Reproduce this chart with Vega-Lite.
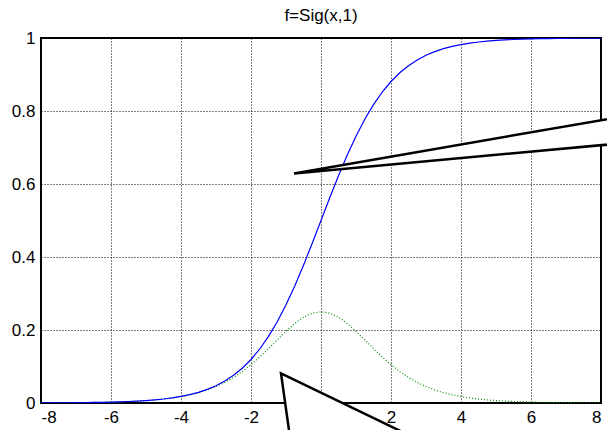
{
  "$schema": "https://vega.github.io/schema/vega-lite/v6.json",
  "autosize": {"type": "none"},
  "width": 560,
  "height": 365,
  "padding": {"left": 41, "top": 38, "right": 6, "bottom": 27},
  "background": "white",
  "config": {
    "view": {"stroke": "black", "strokeWidth": 2},
    "font": "Liberation Sans",
    "axis": {
      "domain": false,
      "grid": true,
      "gridColor": "black",
      "gridOpacity": 1,
      "gridWidth": 1,
      "gridDash": [1, 2],
      "ticks": false,
      "labelColor": "black",
      "labelFont": "Liberation Sans",
      "labelFontSize": 17,
      "title": null
    }
  },
  "title": {
    "text": "f=Sig(x,1)",
    "font": "Liberation Sans",
    "fontSize": 17,
    "fontWeight": "normal",
    "color": "black",
    "offset": 8,
    "dy": 4
  },
  "datasets": {
    "curve": [
      {"x": -8, "f": 0.0003, "d": 0.0003},
      {"x": -7.75, "f": 0.0004, "d": 0.0004},
      {"x": -7.5, "f": 0.0006, "d": 0.0006},
      {"x": -7.25, "f": 0.0007, "d": 0.0007},
      {"x": -7, "f": 0.0009, "d": 0.0009},
      {"x": -6.75, "f": 0.0012, "d": 0.0012},
      {"x": -6.5, "f": 0.0015, "d": 0.0015},
      {"x": -6.25, "f": 0.0019, "d": 0.0019},
      {"x": -6, "f": 0.0025, "d": 0.0025},
      {"x": -5.75, "f": 0.0032, "d": 0.0032},
      {"x": -5.5, "f": 0.0041, "d": 0.0041},
      {"x": -5.25, "f": 0.0052, "d": 0.0052},
      {"x": -5, "f": 0.0067, "d": 0.0066},
      {"x": -4.75, "f": 0.0086, "d": 0.0085},
      {"x": -4.5, "f": 0.011, "d": 0.0109},
      {"x": -4.25, "f": 0.0141, "d": 0.0139},
      {"x": -4, "f": 0.018, "d": 0.0177},
      {"x": -3.75, "f": 0.023, "d": 0.0224},
      {"x": -3.5, "f": 0.0293, "d": 0.0285},
      {"x": -3.25, "f": 0.0373, "d": 0.0359},
      {"x": -3, "f": 0.0474, "d": 0.0452},
      {"x": -2.75, "f": 0.0601, "d": 0.0565},
      {"x": -2.5, "f": 0.0759, "d": 0.0701},
      {"x": -2.25, "f": 0.0953, "d": 0.0863},
      {"x": -2, "f": 0.1192, "d": 0.105},
      {"x": -1.75, "f": 0.148, "d": 0.1261},
      {"x": -1.5, "f": 0.1824, "d": 0.1491},
      {"x": -1.25, "f": 0.2227, "d": 0.1731},
      {"x": -1, "f": 0.2689, "d": 0.1966},
      {"x": -0.75, "f": 0.3208, "d": 0.2179},
      {"x": -0.5, "f": 0.3775, "d": 0.235},
      {"x": -0.25, "f": 0.4378, "d": 0.2461},
      {"x": 0, "f": 0.5, "d": 0.25},
      {"x": 0.25, "f": 0.5622, "d": 0.2461},
      {"x": 0.5, "f": 0.6225, "d": 0.235},
      {"x": 0.75, "f": 0.6792, "d": 0.2179},
      {"x": 1, "f": 0.7311, "d": 0.1966},
      {"x": 1.25, "f": 0.7773, "d": 0.1731},
      {"x": 1.5, "f": 0.8176, "d": 0.1491},
      {"x": 1.75, "f": 0.852, "d": 0.1261},
      {"x": 2, "f": 0.8808, "d": 0.105},
      {"x": 2.25, "f": 0.9047, "d": 0.0863},
      {"x": 2.5, "f": 0.9241, "d": 0.0701},
      {"x": 2.75, "f": 0.9399, "d": 0.0565},
      {"x": 3, "f": 0.9526, "d": 0.0452},
      {"x": 3.25, "f": 0.9627, "d": 0.0359},
      {"x": 3.5, "f": 0.9707, "d": 0.0285},
      {"x": 3.75, "f": 0.977, "d": 0.0224},
      {"x": 4, "f": 0.982, "d": 0.0177},
      {"x": 4.25, "f": 0.9859, "d": 0.0139},
      {"x": 4.5, "f": 0.989, "d": 0.0109},
      {"x": 4.75, "f": 0.9914, "d": 0.0085},
      {"x": 5, "f": 0.9933, "d": 0.0066},
      {"x": 5.25, "f": 0.9948, "d": 0.0052},
      {"x": 5.5, "f": 0.9959, "d": 0.0041},
      {"x": 5.75, "f": 0.9968, "d": 0.0032},
      {"x": 6, "f": 0.9975, "d": 0.0025},
      {"x": 6.25, "f": 0.9981, "d": 0.0019},
      {"x": 6.5, "f": 0.9985, "d": 0.0015},
      {"x": 6.75, "f": 0.9988, "d": 0.0012},
      {"x": 7, "f": 0.9991, "d": 0.0009},
      {"x": 7.25, "f": 0.9993, "d": 0.0007},
      {"x": 7.5, "f": 0.9994, "d": 0.0006},
      {"x": 7.75, "f": 0.9996, "d": 0.0004},
      {"x": 8, "f": 0.9997, "d": 0.0003}
    ],
    "calloutTop": [
      {"x": -0.771, "y": 0.629, "y2": 0.629},
      {"x": 9.114, "y": 0.7932, "y2": 0.7162}
    ],
    "calloutBottom": [
      {"y": 0.0814, "x": -1.143, "x2": -1.143},
      {"y": -0.157, "x": -0.794, "x2": 4.003}
    ]
  },
  "layer": [
    {
      "data": {"name": "curve"},
      "mark": {"type": "line", "color": "#009000", "strokeWidth": 1.2, "strokeDash": [1, 2], "clip": true},
      "encoding": {
        "x": {
          "field": "x", "type": "quantitative",
          "scale": {"domain": [-8, 8], "nice": false, "zero": false},
          "axis": {"values": [-8, -6, -4, -2, 0, 2, 4, 6, 8], "labelExpr": "'' + datum.value", "labelPadding": 6}
        },
        "y": {
          "field": "d", "type": "quantitative",
          "scale": {"domain": [0, 1], "nice": false},
          "axis": {"values": [0, 0.2, 0.4, 0.6, 0.8, 1], "labelExpr": "'' + datum.value", "labelPadding": 6}
        }
      }
    },
    {
      "data": {"name": "curve"},
      "mark": {"type": "line", "color": "#0000ff", "strokeWidth": 1.2, "clip": true},
      "encoding": {
        "x": {"field": "x", "type": "quantitative"},
        "y": {"field": "f", "type": "quantitative"}
      }
    },
    {
      "data": {"name": "calloutTop"},
      "mark": {"type": "area", "orient": "vertical", "fill": "white", "fillOpacity": 1, "stroke": "black", "strokeWidth": 2.5, "clip": false},
      "encoding": {
        "x": {"field": "x", "type": "quantitative"},
        "y": {"field": "y", "type": "quantitative"},
        "y2": {"field": "y2"}
      }
    },
    {
      "data": {"name": "calloutBottom"},
      "mark": {"type": "area", "orient": "horizontal", "fill": "white", "fillOpacity": 1, "stroke": "black", "strokeWidth": 2.5, "clip": false},
      "encoding": {
        "y": {"field": "y", "type": "quantitative"},
        "x": {"field": "x", "type": "quantitative"},
        "x2": {"field": "x2"}
      }
    }
  ]
}
